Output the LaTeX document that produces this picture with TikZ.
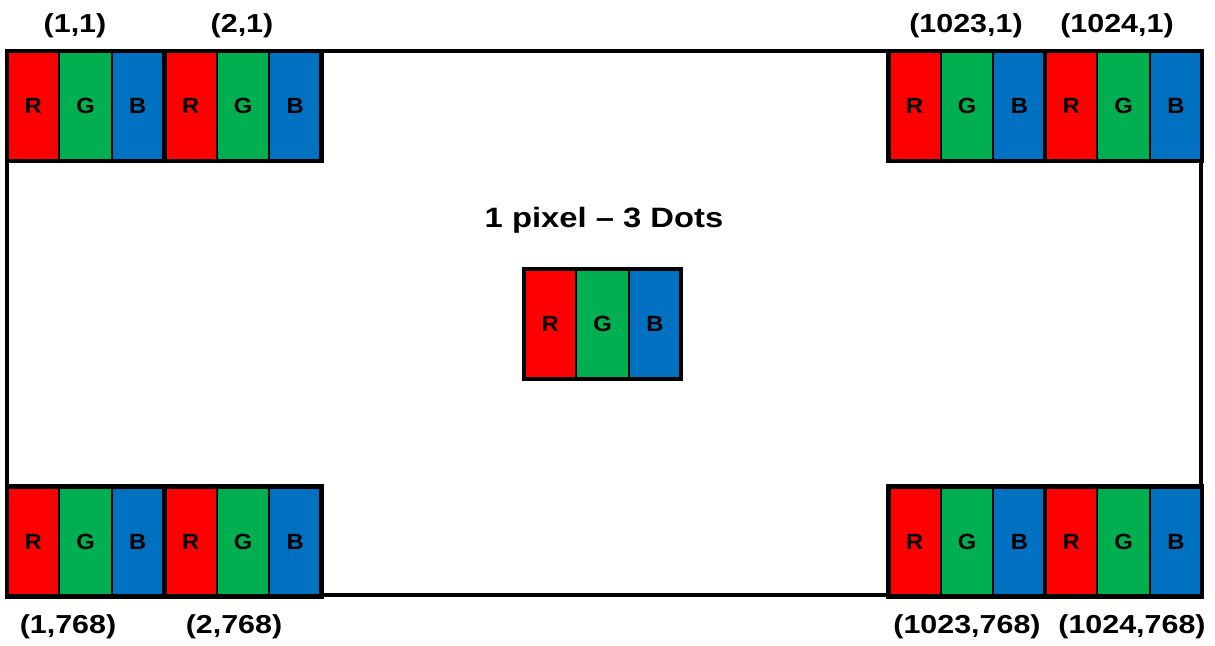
\documentclass[tikz,border=0pt]{standalone}
\usepackage{fontspec}
\setmainfont{Liberation Sans}
\newfontfamily\stretchsans[FakeStretch=1.17]{Liberation Sans}
\newfontfamily\cellsans[FakeStretch=1.08]{Liberation Sans}
\definecolor{dotR}{HTML}{FF0000}
\definecolor{dotG}{HTML}{00B050}
\definecolor{dotB}{HTML}{0070C0}
\tikzset{
  cell/.style={draw=black, line width=1.8pt, minimum width=52.33pt, minimum height=110pt,
    inner sep=0pt, outer sep=0pt, anchor=north west,
    font=\cellsans\bfseries\fontsize{22}{22}\selectfont},
  pixframe/.style={draw=black, line width=4.5pt, line cap=rect},
  outerframe/.style={draw=black, line width=4.5pt},
  coordlabel/.style={anchor=base, inner sep=0pt, font=\stretchsans\bfseries\fontsize{26}{26}\selectfont},
  titlelabel/.style={anchor=base, inner sep=0pt, font=\stretchsans\bfseries\fontsize{28}{28}\selectfont}
}
\newcommand{\rgbpixel}[3]{%
  \node[cell, fill=dotR] (#1r) at (#2,#3) {R};
  \node[cell, fill=dotG] (#1g) at (#1r.north east) {G};
  \node[cell, fill=dotB] (#1b) at (#1g.north east) {B};
  \draw[pixframe] (#1r.north west) rectangle (#1b.south east);
}
\begin{document}
\begin{tikzpicture}[x=1pt, y=-1pt]
  \useasboundingbox[fill=white] (0,0) rectangle (1215,645);
  % outer screen frame
  \draw[outerframe] (7,51) rectangle (1201,595);
  % top row
  \rgbpixel{tla}{7}{51}
  \rgbpixel{tlb}{164.5}{51}
  \rgbpixel{tra}{888.5}{51}
  \rgbpixel{trb}{1045}{51}
  % bottom row
  \rgbpixel{bla}{7}{486.5}
  \rgbpixel{blb}{164.5}{486.5}
  \rgbpixel{bra}{888.5}{486.5}
  \rgbpixel{brb}{1045}{486.5}
  % centre pixel
  \rgbpixel{cen}{524}{269}
  % labels
  \node[coordlabel] (ltla) at (75,32) {(1,1)};
  \node[coordlabel] (ltlb) at (242,32) {(2,1)};
  \node[coordlabel] (ltra) at (966,32) {(1023,1)};
  \node[coordlabel] (ltrb) at (1117,32) {(1024,1)};
  \node[coordlabel] (lbla) at (68,633) {(1,768)};
  \node[coordlabel] (lblb) at (234,633) {(2,768)};
  \node[coordlabel] (lbra) at (967,633) {(1023,768)};
  \node[coordlabel] (lbrb) at (1132,633) {(1024,768)};
  \node[titlelabel] (title) at (604,227) {1 pixel – 3 Dots};
\end{tikzpicture}
\end{document}
